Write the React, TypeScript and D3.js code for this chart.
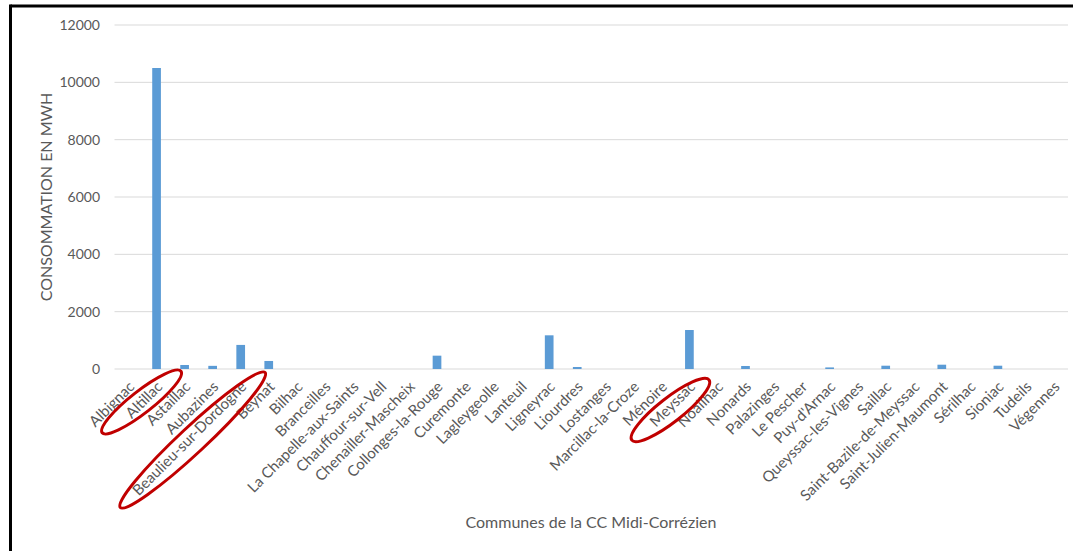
import React from "react";
import * as d3 from "d3";

const communes: string[] = [
  "Albignac", "Altillac", "Astaillac", "Aubazines", "Beaulieu-sur-Dordogne", "Beynat",
  "Bilhac", "Branceilles", "La Chapelle-aux-Saints", "Chauffour-sur-Vell",
  "Chenailler-Mascheix", "Collonges-la-Rouge", "Curemonte", "Lagleygeolle", "Lanteuil",
  "Ligneyrac", "Liourdres", "Lostanges", "Marcillac-la-Croze", "Ménoire", "Meyssac",
  "Noailhac", "Nonards", "Palazinges", "Le Pescher", "Puy-d'Arnac", "Queyssac-les-Vignes",
  "Saillac", "Saint-Bazile-de-Meyssac", "Saint-Julien-Maumont", "Sérilhac", "Sioniac",
  "Tudeils", "Végennes",
];

const consommation: number[] = [
  0, 10500, 140, 110, 840, 280,
  0, 0, 0, 0,
  0, 465, 0, 0, 0,
  1175, 70, 0, 0, 0, 1360,
  0, 105, 0, 0, 55, 0,
  115, 0, 150, 0, 115,
  0, 0,
];

const yTicks: number[] = [0, 2000, 4000, 6000, 8000, 10000, 12000];

const highlighted: string[] = ["Altillac", "Beaulieu-sur-Dordogne", "Meyssac"];

const yTitle = "CONSOMMATION EN MWH";
const xTitle = "Communes de la CC Midi-Corrézien";

const W = 1073;
const H = 551;
const FONT = "Lato, 'Open Sans', sans-serif";
const TEXT = "#595959";

export default function App() {
  const x = d3.scaleBand<string>().domain(communes).range([114.5, 1068]).paddingInner(0.69).paddingOuter(0.345);
  const y = d3.scaleLinear().domain([0, 12000]).range([369, 25]);

  const ellipseSpecs: Record<string, { dx: number; dy: number; rx: number; ry: number; a: number }> = {
    "Altillac": { dx: -15, dy: 33, rx: 50, ry: 11, a: -38 },
    "Beaulieu-sur-Dordogne": { dx: -48, dy: 71, rx: 99, ry: 13, a: -43 },
    "Meyssac": { dx: -19, dy: 41, rx: 49, ry: 12, a: -38 },
  };

  return (
    <svg width={W} height={H} style={{ position: "absolute", left: 0, top: 0, background: "#fff" }}>
      <rect x={0} y={0} width={W} height={H} fill="#fff" />
      <line x1={10.5} x2={W} y1={6} y2={6} stroke="#000" strokeWidth={3} />
      <line x1={10.5} x2={10.5} y1={4.5} y2={H} stroke="#000" strokeWidth={3} />

      {yTicks.map((t) => (
        <line key={"g" + t} x1={114.5} x2={1068} y1={y(t)} y2={y(t)} stroke="#d9d9d9" strokeWidth={1} />
      ))}
      {yTicks.map((t) => (
        <text key={"t" + t} x={100} y={y(t)} dy="0.35em" textAnchor="end" fontFamily={FONT} fontSize={14} fill={TEXT}>
          {t}
        </text>
      ))}

      {communes.map((c, i) =>
        consommation[i] > 0 ? (
          <rect key={"b" + c} x={x(c)} y={y(consommation[i])} width={x.bandwidth()} height={y(0) - y(consommation[i])} fill="#5B9BD5" />
        ) : null
      )}

      {communes.map((c) => {
        const cx = (x(c) as number) + x.bandwidth() / 2;
        return (
          <text key={"l" + c} transform={`translate(${cx + 3},${384}) rotate(-45)`} textAnchor="end" dy="0.35em" fontFamily={FONT} fontSize={15} fill={TEXT}>
            {c}
          </text>
        );
      })}

      {highlighted.map((c) => {
        const s = ellipseSpecs[c];
        const cx = (x(c) as number) + x.bandwidth() / 2;
        return (
          <ellipse key={"e" + c} cx={0} cy={0} rx={s.rx} ry={s.ry} transform={`translate(${cx + s.dx},${y(0) + s.dy}) rotate(${s.a})`} fill="none" stroke="#C00000" strokeWidth={3} />
        );
      })}

      <text transform={`translate(46,197) rotate(-90)`} textAnchor="middle" dy="0.35em" fontFamily={FONT} fontSize={16} fill={TEXT}>
        {yTitle}
      </text>
      <text x={591} y={522} textAnchor="middle" dy="0.35em" fontFamily={FONT} fontSize={16} fill={TEXT}>
        {xTitle}
      </text>
    </svg>
  );
}
